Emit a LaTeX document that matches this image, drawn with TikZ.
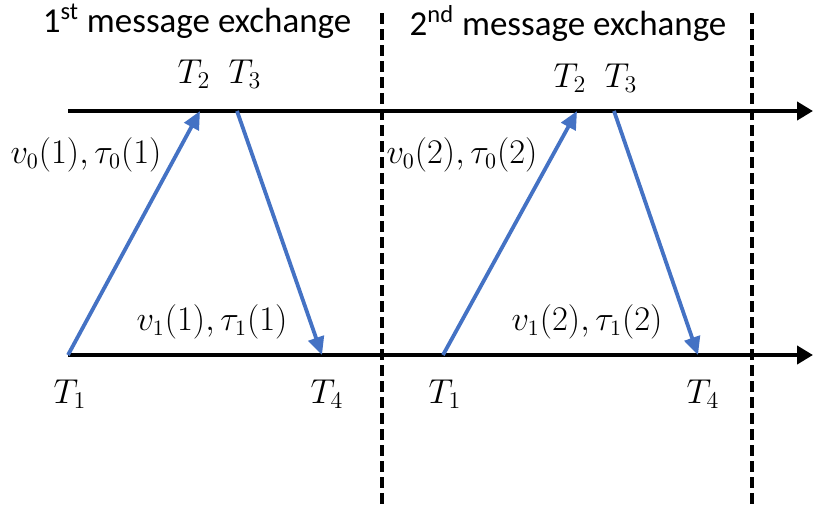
\documentclass[tikz,border=0pt]{standalone}
\usepackage{fontspec}
\setmainfont{Carlito}
\usetikzlibrary{positioning, calc, arrows.meta}
\definecolor{msgblue}{HTML}{4472C4}

\begin{document}
\begin{tikzpicture}[x=0.5pt, y=-0.5pt,
    axis/.style={line width=2.2pt, -{Triangle[length=8pt, width=9pt]}},
    msg/.style={draw=msgblue, line width=1.9pt, -{Triangle[length=9pt, width=8pt]}},
    sep/.style={line width=1.7pt, dash pattern=on 5.5pt off 2.5pt},
    tlabel/.style={font=\fontsize{16.5}{19}\selectfont, anchor=base},
    vlabel/.style={font=\fontsize{16}{19}\selectfont},
    head/.style={font=\fontsize{17.5}{20}\selectfont, anchor=base}]
    \useasboundingbox (0,0) rectangle (813,504);
    % time axes
    \coordinate (topS) at (68,111);
    \coordinate (topE) at (813,111);
    \coordinate (botS) at (68,355);
    \coordinate (botE) at (813,355);
    \draw[axis] (topS) -- (topE);
    \draw[axis] (botS) -- (botE);
    % exchange borders
    \coordinate (sepAtop) at (382,13);
    \coordinate (sepAbot) at (382,504);
    \coordinate (sepBtop) at (752,13);
    \coordinate (sepBbot) at (752,504);
    \draw[sep] (sepAtop) -- (sepAbot);
    \draw[sep] (sepBtop) -- (sepBbot);
    % time stamps
    \coordinate (T1a) at (68,355);
    \coordinate (T2a) at (200,111);
    \coordinate (T3a) at (237,111);
    \coordinate (T4a) at (322,355);
    \coordinate (T1b) at (443,355);
    \coordinate (T2b) at (577,111);
    \coordinate (T3b) at (614,111);
    \coordinate (T4b) at (698,355);
    \draw[msg] (T1a) -- (T2a);
    \draw[msg] (T3a) -- (T4a);
    \draw[msg] (T1b) -- (T2b);
    \draw[msg] (T3b) -- (T4b);
    % labels
    \node[head] (headA) at (197,32) {1\textsuperscript{st} message exchange};
    \node[head] (headB) at (568,35) {2\textsuperscript{nd} message exchange};
    \node[tlabel] (lT2a) at (194,83) {$T_2$};
    \node[tlabel] (lT3a) at (245,83) {$T_3$};
    \node[tlabel] (lT2b) at (570,87) {$T_2$};
    \node[tlabel] (lT3b) at (621,87) {$T_3$};
    \node[tlabel] (lT1a) at (70,403) {$T_1$};
    \node[tlabel] (lT4a) at (327,403) {$T_4$};
    \node[tlabel] (lT1b) at (445,403) {$T_1$};
    \node[tlabel] (lT4b) at (703,403) {$T_4$};
    \node[vlabel] (vA0) at (86,155) {$v_0(1),\tau_0(1)$};
    \node[vlabel] (vA1) at (212,322) {$v_1(1),\tau_1(1)$};
    \node[vlabel] (vB0) at (462,155) {$v_0(2),\tau_0(2)$};
    \node[vlabel] (vB1) at (587,322) {$v_1(2),\tau_1(2)$};
\end{tikzpicture}
\end{document}
